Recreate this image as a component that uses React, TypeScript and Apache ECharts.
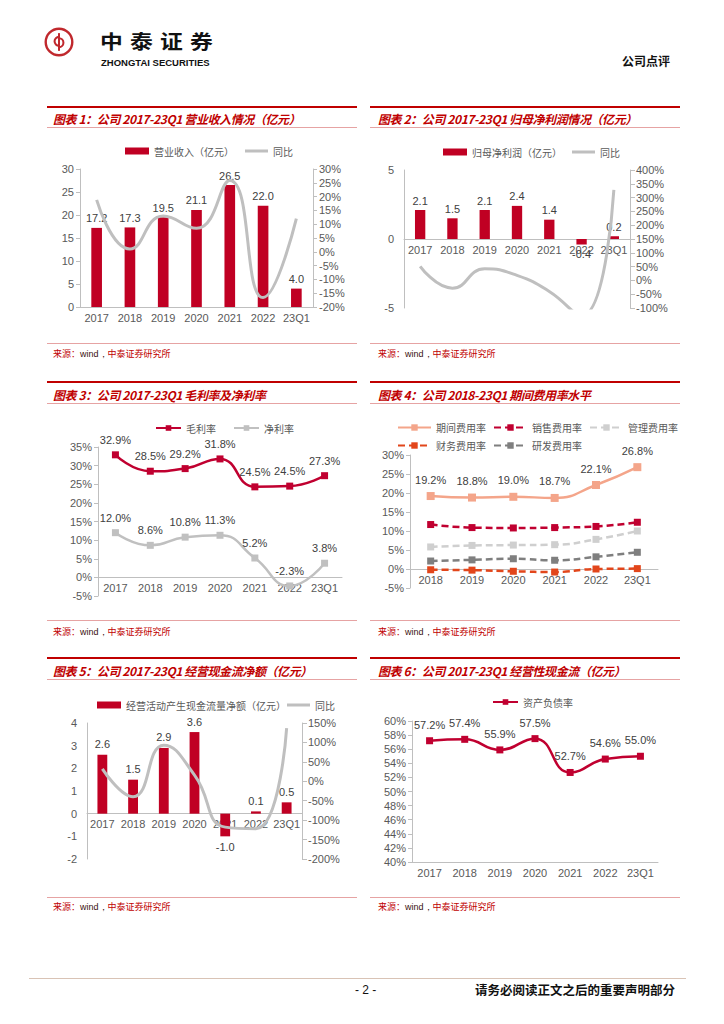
import React, { useEffect, useRef } from 'react';
import * as echarts from 'echarts';

// ---------------- data ----------------
const years7 = ['2017', '2018', '2019', '2020', '2021', '2022', '23Q1'];
const years6 = ['2018', '2019', '2020', '2021', '2022', '23Q1'];

const revenue = [17.2, 17.3, 19.5, 21.1, 26.5, 22.0, 4.0];
const revenueYoY = [18.8, 1, 13, 8.5, 25.8, -16.6, 12];

const netProfit = [2.1, 1.5, 2.1, 2.4, 1.4, -0.4, 0.2];
const netProfitYoY = [51, -28, 42, 18, -40, -129, 328];

const grossMargin = [32.9, 28.5, 29.2, 31.8, 24.3, 24.5, 27.3];
const grossMarginLabels = [32.9, 28.5, 29.2, 31.8, 24.5, 24.5, 27.3];
const netMargin = [12.0, 8.6, 10.8, 11.3, 5.2, -2.3, 3.8];

const periodExp = [19.2, 18.8, 19.0, 18.7, 22.1, 26.8];
const salesExp = [11.7, 10.9, 10.8, 10.9, 11.2, 12.3];
const adminExp = [5.8, 6.2, 6.3, 6.4, 7.8, 10.0];
const finExp = [-0.2, -0.3, -0.6, -0.8, 0.0, 0.1];
const rdExp = [2.1, 2.4, 2.7, 2.3, 3.2, 4.4];

const opCash = [2.6, 1.5, 2.9, 3.6, -1.0, 0.1, 0.5];
const opCashYoY = [32, -40, 93, 16, -118, -122, 137];

const debtRatio = [57.2, 57.4, 55.9, 57.5, 52.7, 54.6, 55.0];

const titles = [
  '图表 1：公司 2017-23Q1 营业收入情况（亿元）',
  '图表 2：公司 2017-23Q1 归母净利润情况（亿元）',
  '图表 3：公司 2017-23Q1 毛利率及净利率',
  '图表 4：公司 2018-23Q1 期间费用率水平',
  '图表 5：公司 2017-23Q1 经营现金流净额（亿元）',
  '图表 6：公司 2017-23Q1 经营性现金流（亿元）',
];

// ---------------- styles ----------------
const CJK = '"Noto Sans CJK SC", "Noto Sans", sans-serif';
const NUM = '"Liberation Sans", Arial, sans-serif';
const RED = '#c00023';
const GRAY_LINE = '#bfbfbf';
const AX_COLOR = '#bfbfbf';
const LABEL_COLOR = '#595959';
const VAL_COLOR = '#404040';

const axLabel = (extra = {}) => ({ color: LABEL_COLOR, fontSize: 11, fontFamily: NUM, ...extra });
const legendText = { color: LABEL_COLOR, fontSize: 10, fontFamily: CJK };

function valueAxis(min: number, max: number, interval: number, opts: any = {}) {
  return {
    type: 'value',
    min,
    max,
    interval,
    axisLine: { show: true, lineStyle: { color: AX_COLOR } },
    axisTick: { show: true, length: 4, lineStyle: { color: AX_COLOR } },
    splitLine: { show: false },
    axisLabel: axLabel({ margin: 6, ...(opts.label || {}) }),
    ...(opts.rest || {}),
  };
}

// category axis placed at the zero level of the value axis (grid height gh, value range min..max)
function catAxis(data: string[], gh = 0, min = 0, max = 1, extra: any = {}) {
  const offset = min < 0 && max > 0 ? -gh * (0 - min) / (max - min) : 0;
  return {
    type: 'category',
    data,
    offset,
    axisLine: { show: true, onZero: false, lineStyle: { color: AX_COLOR } },
    axisTick: { show: false },
    axisLabel: axLabel({ margin: 5, interval: 0 }),
    ...extra,
  };
}

const fmt1 = (p: any) => Number(p.value).toFixed(1);
const fmtPct = (p: any) => Number(p.value).toFixed(1) + '%';

const barData = (arr: number[]) =>
  arr.map((v) => (v < 0 ? { value: v, label: { position: 'bottom' } } : v));

const barLegend = (name: string, left: number, top: number) => ({
  top, left, itemWidth: 24, itemHeight: 7, textStyle: legendText,
  data: [{ name, icon: 'rect' }],
});
const lineLegend = (left: number, top: number) => ({
  top, left, itemWidth: 23, itemHeight: 3, textStyle: legendText,
  data: [{ name: '同比', icon: 'rect' }],
});

// dual-axis layout: two identical grids, bars on grid 0 (left axis), line on grid 1 (right axis)
function dual(grid: any, chartH: number, cats: string[], leftAxis: any, rightAxis: any) {
  const gh = chartH - grid.top - grid.bottom;
  return {
    grid: [grid, grid],
    xAxis: [catAxis(cats, gh, leftAxis.min, leftAxis.max), { ...catAxis(cats), gridIndex: 1, show: false }],
    yAxis: [{ ...leftAxis, gridIndex: 0 }, { ...rightAxis, gridIndex: 1, position: 'right' }],
  };
}

const barSeries = (name: string, data: any[], dist: number) => ({
  name, type: 'bar', data, barWidth: '32%', xAxisIndex: 0, yAxisIndex: 0,
  itemStyle: { color: RED },
  label: { show: true, position: 'top', formatter: fmt1, color: VAL_COLOR, fontSize: 11, fontFamily: NUM, distance: dist },
});
const yoySeries = (data: number[]) => ({
  name: '同比', type: 'line', xAxisIndex: 1, yAxisIndex: 1, data, smooth: true, symbol: 'none', clip: true,
  lineStyle: { color: GRAY_LINE, width: 3 }, itemStyle: { color: GRAY_LINE }, z: 5,
});

// ---------------- layout ----------------
const rows = [
  { top: 107, title: 119, sub: 127, bottom: 343, src: 354, chartTop: 130, chartH: 210 },
  { top: 382, title: 395, sub: 403, bottom: 620, src: 632, chartTop: 405, chartH: 215 },
  { top: 658, title: 671, sub: 679, bottom: 897, src: 907, chartTop: 680, chartH: 217 },
];
const cols = [
  { x1: 47, x2: 357, text: 53, chartLeft: 40, chartW: 320 },
  { x1: 370, x2: 680, text: 378, chartLeft: 365, chartW: 330 },
];

// ---------------- options ----------------
const option1 = {
  animation: false,
  legend: [barLegend('营业收入（亿元）', 80, 11), lineLegend(200, 11)],
  ...dual(
    { left: 40, right: 47, top: 39, bottom: 33 },
    rows[0].chartH,
    years7,
    valueAxis(0, 30, 5),
    valueAxis(-20, 30, 5, { label: { formatter: '{value}%' } }),
  ),
  series: [barSeries('营业收入（亿元）', revenue, 4), yoySeries(revenueYoY)],
};

const option2 = {
  animation: false,
  legend: [barLegend('归母净利润（亿元）', 73, 12), lineLegend(202, 12)],
  ...dual(
    { left: 39, right: 65, top: 40, bottom: 32 },
    rows[0].chartH,
    years7,
    valueAxis(-5, 5, 5, { label: { margin: 10 }, rest: { axisTick: { show: false } } }),
    valueAxis(-100, 400, 50, { label: { formatter: '{value}%', margin: 6 }, rest: { axisTick: { show: true, length: 5, lineStyle: { color: AX_COLOR } } } }),
  ),
  series: [barSeries('归母净利润（亿元）', barData(netProfit), 4), yoySeries(netProfitYoY)],
};

const grid3 = { left: 58, right: 18, top: 42, bottom: 24 };
const option3 = {
  animation: false,
  legend: {
    top: 13, left: 110, itemWidth: 25, itemHeight: 7, itemGap: 17, textStyle: legendText,
    data: ['毛利率', '净利率'],
  },
  grid: grid3,
  xAxis: catAxis(years7, rows[1].chartH - grid3.top - grid3.bottom, -5, 35),
  yAxis: valueAxis(-5, 35, 5, { label: { formatter: '{value}%' } }),
  series: [
    {
      name: '毛利率', type: 'line', data: grossMargin, smooth: true, symbol: 'rect', symbolSize: 7,
      lineStyle: { color: '#c00030', width: 2.5 }, itemStyle: { color: '#c00030' },
      label: {
        show: true, position: 'top', distance: 6, color: VAL_COLOR, fontSize: 11, fontFamily: NUM,
        formatter: (p: any) => grossMarginLabels[p.dataIndex].toFixed(1) + '%',
      },
    },
    {
      name: '净利率', type: 'line', data: netMargin, smooth: true, symbol: 'rect', symbolSize: 7,
      lineStyle: { color: '#c0c0c0', width: 2.5 }, itemStyle: { color: '#c0c0c0' },
      label: { show: true, position: 'top', distance: 6, color: VAL_COLOR, fontSize: 11, fontFamily: NUM, formatter: fmtPct },
    },
  ],
};

const dashLine = (name: string, data: number[], color: string) => ({
  name, type: 'line', data, smooth: true, symbol: 'rect', symbolSize: 7,
  lineStyle: { color, width: 2.5, type: [7, 4] }, itemStyle: { color },
});

const grid4 = { left: 45, right: 37, top: 50, bottom: 32 };
const option4 = {
  animation: false,
  legend: {
    top: 12, left: 27, width: 290, itemWidth: 33, itemHeight: 8, itemGap: 7,
    textStyle: { ...legendText, lineHeight: 11 },
    data: ['期间费用率', '销售费用率', '管理费用率', '财务费用率', '研发费用率'],
  },
  grid: grid4,
  xAxis: catAxis(years6, rows[1].chartH - grid4.top - grid4.bottom, -5, 30),
  yAxis: valueAxis(-5, 30, 5, { label: { formatter: '{value}%' } }),
  series: [
    {
      name: '期间费用率', type: 'line', data: periodExp, smooth: true, symbol: 'rect', symbolSize: 8,
      lineStyle: { color: '#f4a58a', width: 2.5 }, itemStyle: { color: '#f4a58a' },
      label: { show: true, position: 'top', distance: 7, color: VAL_COLOR, fontSize: 11, fontFamily: NUM, formatter: fmtPct },
    },
    dashLine('销售费用率', salesExp, '#c00030'),
    dashLine('管理费用率', adminExp, '#cfcfcf'),
    dashLine('财务费用率', finExp, '#e2461b'),
    dashLine('研发费用率', rdExp, '#7f7f7f'),
  ],
};

const option5 = {
  animation: false,
  legend: [barLegend('经营活动产生现金流量净额（亿元）', 52, 15), lineLegend(242, 15)],
  ...dual(
    { left: 47, right: 58, top: 43, bottom: 38 },
    rows[2].chartH,
    years7,
    valueAxis(-2, 4, 1, { label: { margin: 10 }, rest: { axisTick: { show: false } } }),
    valueAxis(-200, 150, 50, { label: { formatter: '{value}%', margin: 6 }, rest: { axisTick: { show: true, length: 5, lineStyle: { color: AX_COLOR } } } }),
  ),
  series: [barSeries('经营活动产生现金流量净额（亿元）', barData(opCash), 5), yoySeries(opCashYoY)],
};

const option6 = {
  animation: false,
  legend: {
    top: 12, left: 122, itemWidth: 25, itemHeight: 7, textStyle: legendText,
    data: ['资产负债率'],
  },
  grid: { left: 47, right: 37, top: 41, bottom: 35 },
  xAxis: catAxis(years7),
  yAxis: valueAxis(40, 60, 2, { label: { formatter: '{value}%' } }),
  series: [
    {
      name: '资产负债率', type: 'line', data: debtRatio, smooth: true, symbol: 'rect', symbolSize: 7,
      lineStyle: { color: '#c00030', width: 2.5 }, itemStyle: { color: '#c00030' },
      label: { show: true, position: 'top', distance: 7, color: VAL_COLOR, fontSize: 11, fontFamily: NUM, formatter: fmtPct },
    },
  ],
};

const options = [option1, option2, option3, option4, option5, option6];

function EChart({ option, left, top, width, height }: any) {
  const ref = useRef<HTMLDivElement>(null);
  useEffect(() => {
    const chart = echarts.init(ref.current as HTMLDivElement, null, { renderer: 'svg' });
    chart.setOption(option);
    return () => chart.dispose();
  }, [option]);
  return <div ref={ref} style={{ position: 'absolute', left, top, width, height }} />;
}

function HLine({ x1, x2, y, color, h }: any) {
  return <div style={{ position: 'absolute', left: x1, top: y - h / 2, width: x2 - x1, height: h, background: color }} />;
}

function Text({ x, y, size, children, style }: any) {
  return (
    <div style={{ position: 'absolute', left: x, top: y - size * 0.7, lineHeight: `${size * 1.4}px`, fontSize: size, whiteSpace: 'nowrap', ...style }}>
      {children}
    </div>
  );
}

function Panel({ idx }: { idx: number }) {
  const r = rows[Math.floor(idx / 2)];
  const c = cols[idx % 2];
  return (
    <>
      <HLine x1={c.x1} x2={c.x2} y={r.top} color="#c00000" h={1.5} />
      <Text
        x={c.text}
        y={r.title}
        size={12}
        style={{ color: '#c00000', fontFamily: CJK, fontWeight: 700, fontStyle: 'italic', letterSpacing: -0.4 }}
      >
        {titles[idx]}
      </Text>
      <HLine x1={c.x1} x2={c.x2} y={r.sub} color="#e6a3a3" h={1} />
      <EChart option={options[idx]} left={c.chartLeft} top={r.chartTop} width={c.chartW} height={r.chartH} />
      <HLine x1={c.x1} x2={c.x2} y={r.bottom} color="#e6a3a3" h={1} />
      <Text x={c.text} y={r.src} size={9} style={{ color: '#c00000', fontFamily: CJK }}>
        来源：<span style={{ color: '#3a1010', fontFamily: NUM }}>wind，</span>中泰证券研究所
      </Text>
    </>
  );
}

function Logo() {
  return (
    <svg style={{ position: 'absolute', left: 44, top: 27 }} width={30} height={30} viewBox="0 0 44 44">
      <circle cx={22} cy={22} r={19.5} fill="none" stroke="#c0282d" strokeWidth={3.5} />
      <line x1={22} y1={9} x2={22} y2={35} stroke="#c0282d" strokeWidth={3} />
      <path d="M22 14.5 A6.5 6.5 0 1 0 22 27.5" fill="none" stroke="#c0282d" strokeWidth={3} />
      <path d="M22 16.5 A6.5 6.5 0 1 1 22 29.5" fill="none" stroke="#c0282d" strokeWidth={3} />
    </svg>
  );
}

export default function App() {
  return (
    <div style={{ position: 'absolute', left: 0, top: 0, width: 724, height: 1024, background: '#fff', overflow: 'hidden' }}>
      <Logo />
      <Text
        x={100}
        y={41}
        size={19}
        style={{ color: '#111', fontFamily: CJK, fontWeight: 700, letterSpacing: 6, transform: 'scaleX(1.2)', transformOrigin: 'left center' }}
      >
        中泰证券
      </Text>
      <Text x={101} y={62.5} size={9.5} style={{ color: '#111', fontFamily: NUM, fontWeight: 700 }}>
        ZHONGTAI SECURITIES
      </Text>
      <Text x={622} y={61} size={12} style={{ color: '#111', fontFamily: CJK, fontWeight: 700 }}>
        公司点评
      </Text>
      {[0, 1, 2, 3, 4, 5].map((i) => (
        <Panel key={i} idx={i} />
      ))}
      <HLine x1={29} x2={686} y={978} color="#d9c3b5" h={1} />
      <Text x={355} y={990} size={12} style={{ color: '#111', fontFamily: NUM }}>
        - 2 -
      </Text>
      <Text x={475} y={990} size={12.5} style={{ color: '#111', fontFamily: CJK, fontWeight: 700 }}>
        请务必阅读正文之后的重要声明部分
      </Text>
    </div>
  );
}
